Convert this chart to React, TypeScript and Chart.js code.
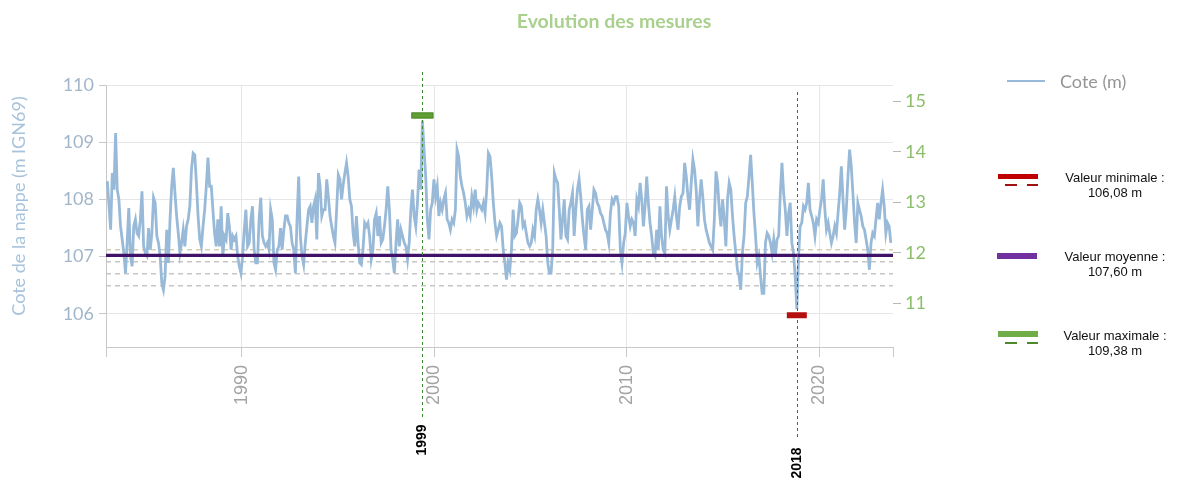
import React, { useEffect, useRef } from 'react';
import { Chart, registerables } from 'chart.js';

Chart.register(...registerables);

// ---- Data (groundwater level, m IGN69), roughly monthly readings ----
const START_YEAR = 1983.02;
const STEP_YEARS = 0.0857;

// 1983 - 1989
const levelsSeg1 = [
  108.32, 107.88, 107.47, 108.46, 108.17, 109.16, 108.17, 108.0, 107.53, 107.3,
  107.06, 106.71, 107.24, 107.85, 107.01, 106.83, 107.53, 107.65, 107.41, 107.36,
  107.65, 108.14, 107.18, 107.06, 107.01, 107.5, 107.12, 107.41, 108.03, 107.94,
  107.36, 107.24, 107.01, 106.54, 106.42, 106.66, 107.47, 106.89, 107.65, 108.23,
  108.55, 108.11, 107.71, 107.41, 107.06, 107.24, 107.47, 107.18, 107.53, 107.65,
  107.88, 108.52, 108.81, 108.78, 108.29, 107.71, 107.3, 107.18, 107.53, 107.82,
  108.23, 108.73, 108.23, 108.23, 107.82, 107.41, 107.18, 107.65, 107.18, 107.88,
  107.01, 107.36, 107.3, 107.76, 107.53, 107.12, 107.36, 107.3,
];
// 1989 - 1996
const levelsSeg2 = [
  107.36, 107.01, 106.83, 106.71, 107.01, 107.47, 107.82, 107.18, 107.24, 107.65,
  107.88, 107.12, 106.89, 106.89, 107.65, 108.03, 107.36, 107.24, 107.18, 107.24,
  107.12, 107.82, 107.65, 106.89, 106.77, 107.12, 107.18, 107.5, 107.12, 107.47,
  107.71, 107.71, 107.59, 107.53, 107.24, 107.12, 106.71, 107.65, 108.4, 107.36,
  107.01, 106.86, 107.24, 107.53, 107.82, 107.88, 107.59, 107.88, 108.0, 107.3,
  108.46, 108.23, 107.71, 107.82, 107.82, 108.35, 108.05, 107.71, 107.53, 107.36,
  107.24, 107.82, 108.43, 108.35, 108.0, 108.26, 108.46, 108.64, 108.4, 108.0,
  107.88, 107.41, 107.18, 107.71, 107.24, 106.89, 106.86, 107.12, 107.59, 107.53,
];
// 1996 - 2003
const levelsSeg3 = [
  107.59, 107.36, 106.95, 107.12, 107.65, 107.76, 107.36, 107.71, 107.24, 107.3,
  107.53, 107.82, 108.23, 107.82, 107.12, 106.95, 106.71, 107.24, 107.65, 107.18,
  107.47, 107.36, 107.24, 107.18, 106.95, 107.24, 107.82, 108.17, 107.71, 107.53,
  107.94, 108.52, 108.17, 109.38, 108.87, 108.4, 107.65, 107.3, 107.82, 107.94,
  108.35, 108.05, 108.23, 107.71, 107.94, 107.82, 108.0, 108.11, 107.65, 107.59,
  107.47, 107.65, 107.59, 107.82, 108.87, 108.75, 108.4, 108.23, 108.11, 107.94,
  107.71, 107.82, 107.71, 108.05, 107.88, 108.17, 107.82, 107.94, 107.88, 107.82,
  107.94, 107.76, 108.17, 108.81, 108.75, 108.4, 107.94, 107.59, 107.36, 107.47,
];
// 2003 - 2010
const levelsSeg4 = [
  107.59, 107.53, 107.12, 106.89, 106.6, 106.89, 106.77, 107.12, 107.82, 107.36,
  107.41, 107.65, 107.94, 107.88, 107.53, 107.59, 107.41, 107.24, 107.18, 107.24,
  107.47, 107.36, 107.82, 108.0, 107.82, 107.59, 107.82, 107.59, 107.36, 106.89,
  106.71, 106.71, 107.12, 108.46, 108.35, 108.29, 107.82, 107.3, 107.65, 108.0,
  107.36, 107.3, 107.82, 107.94, 108.11, 107.36, 107.82, 108.17, 108.35, 108.05,
  107.65, 107.36, 107.12, 107.82, 107.88, 107.47, 107.82, 108.17, 108.11, 107.94,
  107.88, 107.76, 107.71, 107.59, 107.47, 107.41, 107.24, 107.76, 108.0, 107.94,
  108.05, 108.05, 107.88, 107.12, 106.89, 107.24, 107.41, 107.94, 107.71, 107.53,
];
// 2010 - 2017
const levelsSeg5 = [
  107.65, 107.59, 107.36, 108.0, 107.88, 108.29, 108.0, 107.53, 107.88, 108.4,
  107.94, 107.59, 107.36, 107.06, 107.01, 107.47, 107.12, 107.88, 107.36, 107.12,
  107.06, 108.23, 107.71, 107.47, 107.65, 107.82, 108.05, 107.71, 107.47, 107.88,
  108.05, 108.11, 108.64, 108.4, 108.05, 107.82, 108.29, 108.7, 108.52, 108.17,
  107.53, 108.0, 108.35, 108.05, 107.65, 107.47, 107.36, 107.24, 107.18, 107.12,
  107.65, 108.49, 108.29, 107.82, 107.53, 108.0, 107.65, 107.18, 108.0, 108.29,
  108.17, 107.71, 107.36, 107.06, 106.77, 106.66, 106.42, 107.06, 107.36, 107.94,
  108.05, 108.4, 108.78, 108.29, 107.76, 107.36, 106.89, 107.01, 106.66, 106.36,
];
// 2017 - 2023
const levelsSeg6 = [
  106.36, 107.24, 107.41, 107.36, 107.24, 107.06, 107.3, 107.01, 107.3, 107.36,
  108.11, 108.64, 108.11, 107.82, 107.36, 107.76, 107.94, 107.24, 107.06, 106.66,
  106.08, 106.95, 107.53, 107.59, 107.88, 107.82, 107.94, 108.29, 107.82, 107.71,
  107.59, 107.36, 107.65, 107.59, 107.82, 108.0, 108.35, 107.82, 107.47, 107.59,
  107.41, 107.24, 107.36, 107.53, 107.41, 107.76, 108.11, 108.58, 108.0, 107.47,
  107.82, 108.4, 108.87, 108.58, 108.11, 107.59, 107.24, 107.94, 107.82, 107.71,
  107.53, 107.47, 107.3, 107.12, 106.77, 107.24, 107.41, 107.36, 107.65, 107.94,
  107.65, 107.94, 108.17, 107.88, 107.41, 107.59, 107.53, 107.24,
];

const thresholdLevels = [107.12, 106.91, 106.7, 106.49];
const thresholdColors = ['#d6cdb9', '#c6c6c6', '#c6c6c6', '#c6c6c6'];
const referenceLevel = 107.02;
const meanValue = 107.6;

const xTickYears = [1990, 2000, 2010, 2020];
const yTicksLeft = [106, 107, 108, 109, 110];
const yTicksRight = [11, 12, 13, 14, 15];

const X_MIN = 1982.95;
const X_MAX = 2023.84;
const Y_MIN = 105.42;
const Y_MAX = 110;
const Y2_MIN = 10.14;
const Y2_MAX = 15.32;

const SERIES_COLOR = '#98bad8';
const Y_TITLE = 'Cote de la nappe (m IGN69)';

const allLevels = [
  ...levelsSeg1, ...levelsSeg2, ...levelsSeg3,
  ...levelsSeg4, ...levelsSeg5, ...levelsSeg6,
];

function fmt(v: number) {
  return v.toFixed(2).replace('.', ',') + ' m';
}

export default function App() {
  const ref = useRef<HTMLCanvasElement>(null);

  let maxI = 0;
  let minI = 0;
  allLevels.forEach((v, i) => {
    if (v > allLevels[maxI]) maxI = i;
    if (v < allLevels[minI]) minI = i;
  });
  const maxYear = START_YEAR + maxI * STEP_YEARS;
  const minYear = START_YEAR + minI * STEP_YEARS;
  const maxValue = allLevels[maxI];
  const minValue = allLevels[minI];

  useEffect(() => {
    const points = allLevels.map((v, i) => ({ x: START_YEAR + i * STEP_YEARS, y: v }));

    const overlay = {
      id: 'overlay',
      afterDraw(chart: any) {
        const ctx = chart.ctx;
        const xs = chart.scales.x;
        const ys = chart.scales.y;

        // left axis title
        ctx.save();
        ctx.translate(19, 206);
        ctx.rotate(-Math.PI / 2);
        ctx.font = '18px Lato';
        ctx.fillStyle = '#a8c3dc';
        ctx.textAlign = 'center';
        ctx.textBaseline = 'middle';
        ctx.fillText(Y_TITLE, 0, 0);
        ctx.restore();

        const drawV = (year: number, color: string, top: number, bottom: number, label: string, labelY: number) => {
          const px = Math.round(xs.getPixelForValue(year)) + 0.5;
          ctx.save();
          ctx.strokeStyle = color;
          ctx.lineWidth = 1;
          ctx.setLineDash([3, 3]);
          ctx.beginPath();
          ctx.moveTo(px, top);
          ctx.lineTo(px, bottom);
          ctx.stroke();
          ctx.setLineDash([]);
          ctx.translate(px, labelY);
          ctx.rotate(-Math.PI / 2);
          ctx.font = 'bold 14px "Liberation Sans", Arial, sans-serif';
          ctx.fillStyle = '#000';
          ctx.textAlign = 'center';
          ctx.textBaseline = 'middle';
          ctx.fillText(label, 0, 0);
          ctx.restore();
        };
        drawV(maxYear, '#3a8a32', 72, 418, String(Math.floor(maxYear)), 440);
        drawV(minYear, '#a33c3c', 92, 437, String(Math.floor(minYear)), 463);

        ctx.save();
        const gx = xs.getPixelForValue(maxYear);
        const gy = ys.getPixelForValue(maxValue) - 5;
        ctx.fillStyle = '#5f9f35';
        ctx.fillRect(gx - 11, gy - 3, 22, 6);
        ctx.strokeStyle = '#4d8a2a';
        ctx.lineWidth = 1;
        ctx.strokeRect(gx - 11 + 0.5, gy - 3 + 0.5, 21, 5);
        const rx = xs.getPixelForValue(minYear);
        const ry = ys.getPixelForValue(minValue) + 6;
        ctx.fillStyle = '#b3100f';
        ctx.fillRect(rx - 10, ry - 3, 20, 6);
        ctx.restore();
      },
    };

    const chart = new Chart(ref.current as HTMLCanvasElement, {
      type: 'line',
      data: {
        datasets: [
          ...thresholdLevels.map((lv, k) => ({
            data: [{ x: X_MIN, y: lv }, { x: X_MAX, y: lv }],
            borderColor: thresholdColors[k],
            borderWidth: 1.5,
            borderDash: [5, 4],
            pointRadius: 0,
            order: 3,
            yAxisID: 'y',
          })),
          {
            label: 'Cote (m)',
            data: points,
            borderColor: SERIES_COLOR,
            borderWidth: 2.8,
            pointRadius: 0,
            tension: 0,
            order: 2,
            yAxisID: 'y',
          },
          {
            data: [{ x: X_MIN, y: referenceLevel }, { x: X_MAX, y: referenceLevel }],
            borderColor: '#3f1268',
            borderWidth: 3.2,
            pointRadius: 0,
            order: 1,
            yAxisID: 'y',
          },
        ] as any,
      },
      options: {
        animation: false,
        responsive: false,
        events: [],
        layout: { padding: { left: 0, top: 85, right: 238, bottom: 0 } },
        plugins: { legend: { display: false }, title: { display: false }, tooltip: { enabled: false } },
        scales: {
          x: {
            type: 'linear',
            min: X_MIN,
            max: X_MAX,
            afterBuildTicks: (s: any) => {
              s.ticks = [X_MIN, ...xTickYears, X_MAX].map((v) => ({ value: v }));
            },
            ticks: {
              minRotation: 90,
              maxRotation: 90,
              autoSkip: false,
              padding: 8,
              color: '#a3a3a3',
              font: { family: '"Liberation Sans", Arial, sans-serif', size: 18 },
              callback: (v: any) => (xTickYears.includes(v) ? String(v) : ''),
            },
            grid: {
              color: (c: any) => (c.tick && xTickYears.includes(c.tick.value) ? '#e6e6e6' : 'rgba(0,0,0,0)'),
              tickColor: '#c8c8c8',
              tickLength: 10,
            },
            border: { display: true, color: '#c8c8c8' },
            afterFit: (s: any) => { s.height = 140; },
          },
          y: {
            type: 'linear',
            position: 'left',
            min: Y_MIN,
            max: Y_MAX,
            afterBuildTicks: (s: any) => {
              s.ticks = yTicksLeft.map((v) => ({ value: v }));
            },
            ticks: {
              padding: 5,
              color: '#a2b6ca',
              font: { family: 'Lato', size: 18 },
            },
            grid: { color: '#e6e6e6', tickColor: '#c8c8c8', tickLength: 7 },
            border: { display: true, color: '#c8c8c8' },
            afterFit: (s: any) => { s.width = 106; },
          },
          y2: {
            type: 'linear',
            position: 'right',
            min: Y2_MIN,
            max: Y2_MAX,
            afterBuildTicks: (s: any) => {
              s.ticks = yTicksRight.map((v) => ({ value: v }));
            },
            ticks: {
              padding: 4,
              color: '#8cbf6c',
              font: { family: 'Lato', size: 18 },
            },
            grid: { drawOnChartArea: false, tickColor: '#b8b8b8', tickLength: 8 },
            border: { display: false },
            afterFit: (s: any) => { s.width = 50; },
          },
        },
      } as any,
      plugins: [overlay],
    });
    return () => chart.destroy();
  }, []);

  const legendText: React.CSSProperties = {
    position: 'absolute',
    left: 1055,
    width: 120,
    textAlign: 'center',
    font: '13px "Liberation Sans", Arial, sans-serif',
    lineHeight: '15px',
    color: '#111',
    whiteSpace: 'nowrap',
  };
  const bar = (left: number, top: number, w: number, h: number, color: string): React.CSSProperties => ({
    position: 'absolute', left, top, width: w, height: h, background: color,
  });

  return (
    <div style={{ position: 'fixed', left: 0, top: 0, width: 1181, height: 487, background: '#fff', overflow: 'hidden' }}>
      <canvas ref={ref} width={1181} height={487} style={{ position: 'absolute', left: 0, top: 0, width: 1181, height: 487 }} />
      <div style={{ position: 'absolute', left: 414, width: 400, top: 8, textAlign: 'center', font: 'bold 19.5px Lato', color: '#a9d18e', lineHeight: '26px' }}>
        Evolution des mesures
      </div>
      {/* series legend */}
      <div style={{ position: 'absolute', left: 1007, top: 80, width: 38, height: 2, background: SERIES_COLOR }} />
      <div style={{ position: 'absolute', left: 1060, top: 69, font: '18px Lato', color: '#959595', lineHeight: '24px', whiteSpace: 'nowrap' }}>
        Cote (m)
      </div>
      {/* minimum */}
      <div style={bar(998, 174, 40, 5, '#c00000')} />
      <div style={bar(1005, 184, 12, 2, '#a01010')} />
      <div style={bar(1027, 184, 11, 2, '#a01010')} />
      <div style={{ ...legendText, top: 170 }}>
        Valeur minimale :<br />{fmt(minValue)}
      </div>
      {/* mean */}
      <div style={bar(997, 253, 40, 6, '#7030a0')} />
      <div style={{ ...legendText, top: 249 }}>
        Valeur moyenne :<br />{fmt(meanValue)}
      </div>
      {/* maximum */}
      <div style={bar(998, 331, 40, 6, '#70ad47')} />
      <div style={bar(1005, 342, 12, 2, '#4e8a2c')} />
      <div style={bar(1027, 342, 11, 2, '#4e8a2c')} />
      <div style={{ ...legendText, top: 328 }}>
        Valeur maximale :<br />{fmt(maxValue)}
      </div>
    </div>
  );
}
